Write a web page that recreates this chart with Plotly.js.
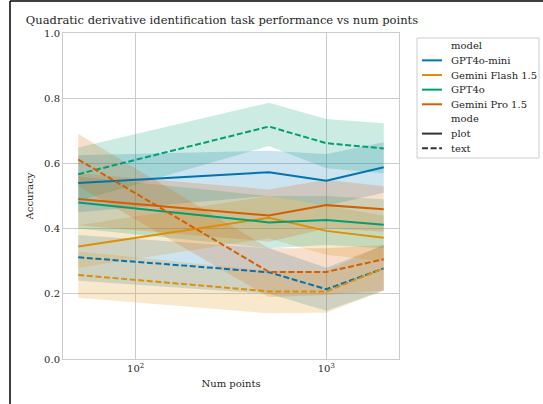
<!DOCTYPE html>
<html>
<head>
<meta charset="utf-8">
<script src="https://cdn.plot.ly/plotly-3.0.1.min.js"></script>
<style>html,body{margin:0;padding:0;background:#fff;} #chart{width:543px;height:404px;}</style>
</head>
<body>
<div id="chart"></div>
<script>
// Data
const numPoints = [50, 500, 1000, 2000];
const models = ["GPT4o-mini", "Gemini Flash 1.5", "GPT4o", "Gemini Pro 1.5"];
const modes = ["plot", "text"];
const modelColors = ["#0173b2", "#de8f05", "#029e73", "#d55e00"];

// plot mode: mean, lower, upper
const plotMean = {
  "GPT4o-mini":       [0.540, 0.573, 0.547, 0.588],
  "Gemini Flash 1.5": [0.345, 0.433, 0.393, 0.372],
  "GPT4o":            [0.480, 0.419, 0.426, 0.412],
  "Gemini Pro 1.5":   [0.491, 0.440, 0.472, 0.459]
};
const plotLower = {
  "GPT4o-mini":       [0.45, 0.50, 0.47, 0.51],
  "Gemini Flash 1.5": [0.28, 0.37, 0.32, 0.30],
  "GPT4o":            [0.40, 0.34, 0.35, 0.34],
  "Gemini Pro 1.5":   [0.41, 0.36, 0.40, 0.39]
};
const plotUpper = {
  "GPT4o-mini":       [0.625, 0.639, 0.629, 0.665],
  "Gemini Flash 1.5": [0.41, 0.50, 0.47, 0.44],
  "GPT4o":            [0.56, 0.50, 0.50, 0.49],
  "Gemini Pro 1.5":   [0.57, 0.52, 0.55, 0.53]
};
// text mode
const textMean = {
  "GPT4o-mini":       [0.312, 0.266, 0.214, 0.278],
  "Gemini Flash 1.5": [0.258, 0.207, 0.207, 0.278],
  "GPT4o":            [0.567, 0.713, 0.662, 0.646],
  "Gemini Pro 1.5":   [0.612, 0.267, 0.267, 0.306]
};
const textLower = {
  "GPT4o-mini":       [0.24, 0.20, 0.148, 0.21],
  "Gemini Flash 1.5": [0.188, 0.14, 0.142, 0.21],
  "GPT4o":            [0.485, 0.653, 0.585, 0.57],
  "Gemini Pro 1.5":   [0.53, 0.19, 0.196, 0.21]
};
const textUpper = {
  "GPT4o-mini":       [0.38, 0.34, 0.28, 0.35],
  "Gemini Flash 1.5": [0.33, 0.27, 0.27, 0.35],
  "GPT4o":            [0.649, 0.786, 0.736, 0.723],
  "Gemini Pro 1.5":   [0.69, 0.34, 0.34, 0.35]
};
const xTickVals = [100, 1000];
const xTickText = ["10<sup>2</sup>", "10<sup>3</sup>"];
const yTickVals = [0, 0.2, 0.4, 0.6, 0.8, 1.0];
const yTickText = ["0.0", "0.2", "0.4", "0.6", "0.8", "1.0"];

function rgba(hex, a) {
  const r = parseInt(hex.slice(1,3),16), g = parseInt(hex.slice(3,5),16), b = parseInt(hex.slice(5,7),16);
  return `rgba(${r},${g},${b},${a})`;
}

const dashPattern = "6px,2.6px";
const traces = [];
models.forEach((m, i) => {
  [[plotLower, plotUpper], [textLower, textUpper]].forEach(([lo, up]) => {
    traces.push({
      x: numPoints.concat(numPoints.slice().reverse()),
      y: up[m].concat(lo[m].slice().reverse()),
      fill: "toself", fillcolor: rgba(modelColors[i], 0.2),
      line: {width: 0}, mode: "lines", hoverinfo: "skip", showlegend: false
    });
  });
});
models.forEach((m, i) => {
  traces.push({x: numPoints, y: plotMean[m], mode: "lines", line: {color: modelColors[i], width: 2}, showlegend: false});
  traces.push({x: numPoints, y: textMean[m], mode: "lines", line: {color: modelColors[i], width: 2, dash: dashPattern}, showlegend: false});
});

// Layout geometry (pixels)
const L = 63, T = 33, W = 336, H = 326;
const px = v => (v - L) / W;
const py = v => (T + H - v) / H;

const serif = "DejaVu Serif";
const txtColor = "#262626";

// Legend drawn with shapes + annotations
const shapes = [
  {type: "rect", xref: "paper", yref: "paper", x0: px(417), x1: px(539), y0: py(38), y1: py(158),
   line: {color: "#cccccc", width: 1}, fillcolor: "#ffffff", layer: "above"},
  {type: "line", xref: "paper", yref: "paper", x0: px(10), x1: px(545), y0: py(1), y1: py(1), line: {color: "#000", width: 1.5}},
  {type: "line", xref: "paper", yref: "paper", x0: px(10), x1: px(10), y0: py(1), y1: py(406), line: {color: "#000", width: 1.5}}
];
const annotations = [];
const rowY0 = 45.7, rowStep = 14.65;
const legendRows = [{label: "model", header: true}]
  .concat(models.map((m, i) => ({label: m, color: modelColors[i], dash: "solid"})))
  .concat([{label: "mode", header: true}])
  .concat(modes.map((m, i) => ({label: m, color: "#333333", dash: i === 0 ? "solid" : "dash"})));
legendRows.forEach((r, k) => {
  const y = rowY0 + k * rowStep;
  annotations.push({xref: "paper", yref: "paper", x: px(449), y: py(y), xanchor: "left", yanchor: "middle",
    text: r.label, showarrow: false, font: {family: serif, size: 10, color: txtColor}});
  if (!r.header) {
    shapes.push({type: "line", xref: "paper", yref: "paper", x0: px(422), x1: px(442), y0: py(y), y1: py(y),
      line: {color: r.color, width: 2, dash: r.dash === "dash" ? dashPattern : "solid"}, layer: "above"});
  }
});

const layout = {
  width: 543, height: 404,
  margin: {l: L, r: 543 - L - W, t: T, b: 404 - T - H},
  paper_bgcolor: "#ffffff", plot_bgcolor: "#ffffff",
  font: {family: serif, color: txtColor, size: 10},
  title: {text: "Quadratic derivative identification task performance vs num points",
          font: {family: serif, size: 11.5, color: txtColor},
          xref: "paper", x: px(222), xanchor: "center", yref: "container", y: 1 - 20/404, yanchor: "middle"},
  xaxis: {type: "log", range: [Math.log10(50) - 0.08, Math.log10(2000) + 0.08],
          tickvals: xTickVals, ticktext: xTickText, showgrid: true, gridcolor: "#cccccc", gridwidth: 1,
          zeroline: false, showline: true, linecolor: "#cccccc", linewidth: 1, mirror: true, ticks: "",
          title: {text: "Num points", font: {family: serif, size: 10, color: txtColor}, standoff: 6}},
  yaxis: {range: [0, 1], tickvals: yTickVals, ticktext: yTickText, showgrid: true, gridcolor: "#cccccc", gridwidth: 1,
          zeroline: false, showline: true, linecolor: "#cccccc", linewidth: 1, mirror: true, ticks: "",
          title: {text: "Accuracy", font: {family: serif, size: 10, color: txtColor}, standoff: 8}},
  shapes: shapes,
  annotations: annotations,
  showlegend: false
};
Plotly.newPlot("chart", traces, layout, {displayModeBar: false, staticPlot: true});
</script>
</body>
</html>
